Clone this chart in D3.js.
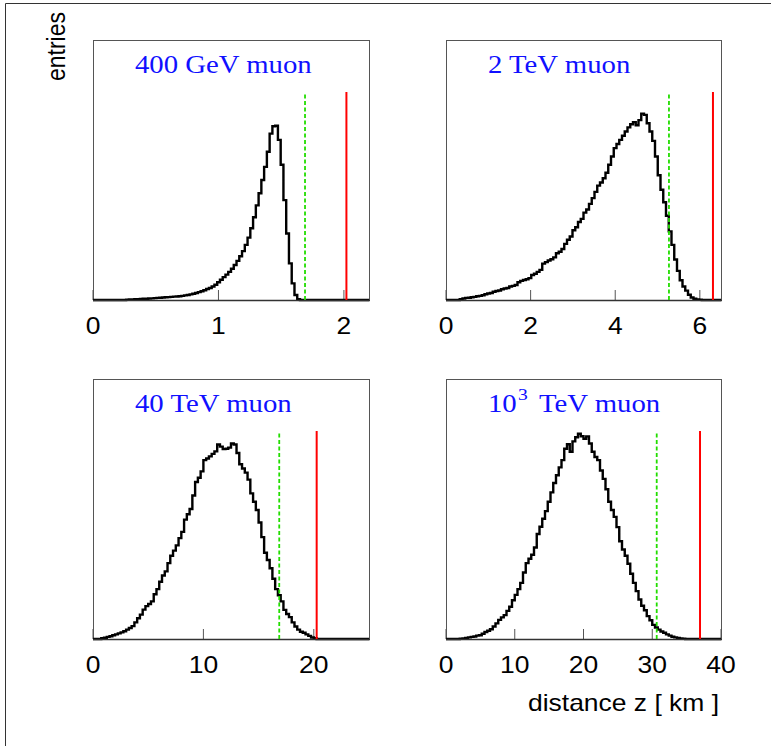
<!DOCTYPE html>
<html>
<head>
<meta charset="utf-8">
<script src="https://cdn.jsdelivr.net/npm/d3@7"></script>
<style>
  html, body { margin: 0; padding: 0; background: #fff; }
  svg { display: block; }
</style>
</head>
<body>
<svg id="chart" width="771" height="746"></svg>
<script>
// ---------------- data ----------------
const titles = ["400 GeV muon", "2 TeV muon", "40 TeV muon", "10"];
const titleSup = ["", "", "", "3"];
const titleRest = ["", "", "", " TeV muon"];
const xMax = [2.2, 6.5, 25, 40];
const xTicks = [[0, 1, 2], [0, 2, 4, 6], [0, 10, 20], [0, 10, 20, 30, 40]];
const greenLine = [1.69, 5.27, 16.87, 30.65];
const redLine = [2.02, 6.31, 20.26, 36.95];
const nBins = 100;

const hist400GeV = [
  0,0,0,0,0,0,0,0,0,0,0,0,
  .002,.003,.003,.004,.004,.005,.006,.006,.007,.008,.009,.010,.011,.012,.013,.014,.015,.016,.017,.018,
  .020,.022,.024,.027,.030,.034,.038,.042,.047,.053,.058,.065,.073,.085,.097,.110,.122,.135,.150,.168,
  .188,.210,.235,.265,.300,.345,.398,.455,.513,.577,.640,.713,.800,.835,.838,.770,.650,.480,.320,.176,
  .080,.024,.004,
  0,0,0,0,0,0,0,0,0,0,0,0,0,0,0,0,0,0,0,0,0,0,0,0,0
];
const hist2TeV = [
  0,0,0,0,0,
  .004,.007,.010,.011,.013,.015,.018,.020,.023,.028,.031,.034,.040,.043,.046,.052,.055,.058,.065,.068,
  .072,.085,.092,.096,.100,.105,.120,.126,.135,.145,.175,.182,.190,.196,.205,.225,.232,.245,.270,.290,
  .305,.335,.350,.375,.390,.420,.435,.462,.490,.520,.550,.565,.585,.612,.650,.690,.730,.750,.770,.790,
  .810,.830,.845,.855,.840,.865,.896,.890,.850,.810,.765,.690,.600,.530,.470,.405,.330,.265,.195,.140,
  .095,.065,.045,.025,.012,.006,.003,.001,
  0,0,0,0,0,0,0
];
const hist40TeV = [
  0,0,0,
  .004,.006,.010,.013,.018,.022,.027,.032,.037,.045,.053,.062,.080,.100,.117,.141,.158,.168,.181,.215,
  .240,.275,.305,.325,.365,.400,.425,.450,.485,.515,.574,.600,.625,.690,.755,.775,.806,.860,.868,.878,
  .890,.902,.935,.925,.913,.915,.920,.940,.935,.894,.840,.820,.800,.766,.700,.660,.620,.560,.490,.415,
  .380,.340,.290,.240,.210,.181,.140,.120,.105,.080,.060,.045,.035,.030,.022,.015,.007,.004,
  0,0,0,0,0,0,0,0,0,0,0,0,0,0,0,0,0,0,0
];
const hist1000TeV = [
  0,0,0,0,0,
  .002,.003,.005,.008,.010,.012,.016,.018,.025,.034,.040,.047,.060,.075,.092,.104,.115,.135,.155,.186,
  .212,.240,.270,.320,.365,.386,.405,.440,.505,.540,.578,.615,.660,.705,.750,.787,.825,.860,.915,.936,
  .900,.950,.970,.987,.975,.963,.974,.940,.900,.875,.860,.810,.770,.720,.660,.620,.587,.538,.470,.430,
  .400,.362,.314,.270,.230,.190,.160,.138,.110,.090,.068,.055,.045,.036,.030,.022,.016,.011,.008,.005,
  .003,.002,
  0,0,0,0,0,0,0,0,0,0,0,0,0
];
const histograms = [hist400GeV, hist2TeV, hist40TeV, hist1000TeV];

// ---------------- layout ----------------
const svg = d3.select("#chart");
const stretch = 1.15;
const panelBoxes = [
  {x0: 93, x1: 369, y0: 40, y1: 300},
  {x0: 446, x1: 721, y0: 40, y1: 300},
  {x0: 93, x1: 369, y0: 379, y1: 639},
  {x0: 446, x1: 721, y0: 379, y1: 639}
];

// outer frame (top and left edges)
svg.append("path")
  .attr("d", "M5.5,746 L5.5,3.5 L771,3.5")
  .attr("fill", "none").attr("stroke", "#333").attr("stroke-width", 1);

function stretchedText(parent, x, y, anchor) {
  return parent.append("g")
    .attr("transform", `translate(${x},${y}) scale(${stretch},1)`)
    .append("text").attr("x", 0).attr("y", 0).attr("text-anchor", anchor);
}

panelBoxes.forEach((b, i) => {
  const g = svg.append("g");
  const x = d3.scaleLinear().domain([0, xMax[i]]).range([b.x0, b.x1]);
  const y = d3.scaleLinear().domain([0, 1.25]).range([b.y1, b.y0]);

  // frame
  g.append("rect")
    .attr("x", b.x0 + 0.5).attr("y", b.y0 + 0.5)
    .attr("width", b.x1 - b.x0).attr("height", b.y1 - b.y0)
    .attr("fill", "none").attr("stroke", "#555").attr("stroke-width", 1);

  // ticks (inside, pointing up)
  g.selectAll(".tick").data(xTicks[i]).join("line")
    .attr("x1", d => x(d)).attr("x2", d => x(d))
    .attr("y1", b.y1).attr("y2", b.y1 - 10)
    .attr("stroke", "#555").attr("stroke-width", 1);

  // tick labels
  xTicks[i].forEach(t => {
    stretchedText(g, x(t), b.y1 + 34, "middle")
      .attr("font-family", "'Liberation Sans', Arial, sans-serif")
      .attr("font-size", 23).attr("fill", "#000")
      .text(d3.format("d")(t));
  });

  // histogram
  const h = histograms[i];
  const bw = xMax[i] / nBins;
  const pts = h.map((v, k) => [k * bw, v]);
  pts.push([nBins * bw, h[h.length - 1]]);
  const line = d3.line().x(d => x(d[0])).y(d => y(d[1])).curve(d3.curveStepAfter);
  g.append("path").attr("d", line(pts))
    .attr("fill", "none").attr("stroke", "#000").attr("stroke-width", 2.4)
    .attr("stroke-linejoin", "miter");

  // bottom axis line
  g.append("line")
    .attr("x1", b.x0).attr("x2", b.x1 + 1).attr("y1", b.y1 + 0.5).attr("y2", b.y1 + 0.5)
    .attr("stroke", "#333").attr("stroke-width", 1.5);

  // green dashed line
  g.append("line")
    .attr("x1", x(greenLine[i])).attr("x2", x(greenLine[i]))
    .attr("y1", y(0)).attr("y2", y(1))
    .attr("stroke", "#22dd00").attr("stroke-width", 1.8)
    .attr("stroke-dasharray", "4,2.5");

  // red line
  g.append("line")
    .attr("x1", x(redLine[i])).attr("x2", x(redLine[i]))
    .attr("y1", y(0)).attr("y2", y(1))
    .attr("stroke", "#ff0000").attr("stroke-width", 2);

  // title
  const t = stretchedText(g, b.x0 + 42, b.y0 + 33, "start")
    .attr("font-family", "'Liberation Serif', 'Times New Roman', serif")
    .attr("font-size", 25).attr("fill", "#1010ff");
  t.append("tspan").text(titles[i]);
  if (titleSup[i]) {
    t.append("tspan").attr("font-size", 17).attr("dy", -12).attr("dx", 1).text(titleSup[i]);
    t.append("tspan").attr("dy", 12).attr("dx", 4).text(titleRest[i]);
  }
});

// y label
svg.append("text")
  .attr("transform", `translate(65,12) scale(${stretch},1) rotate(-90)`)
  .attr("text-anchor", "end")
  .attr("font-family", "'Liberation Sans', Arial, sans-serif")
  .attr("font-size", 23).attr("fill", "#000")
  .text("entries");

// x label
stretchedText(svg, 719, 711, "end")
  .attr("font-family", "'Liberation Sans', Arial, sans-serif")
  .attr("font-size", 23).attr("fill", "#000")
  .text("distance z [ km ]");
</script>
</body>
</html>
